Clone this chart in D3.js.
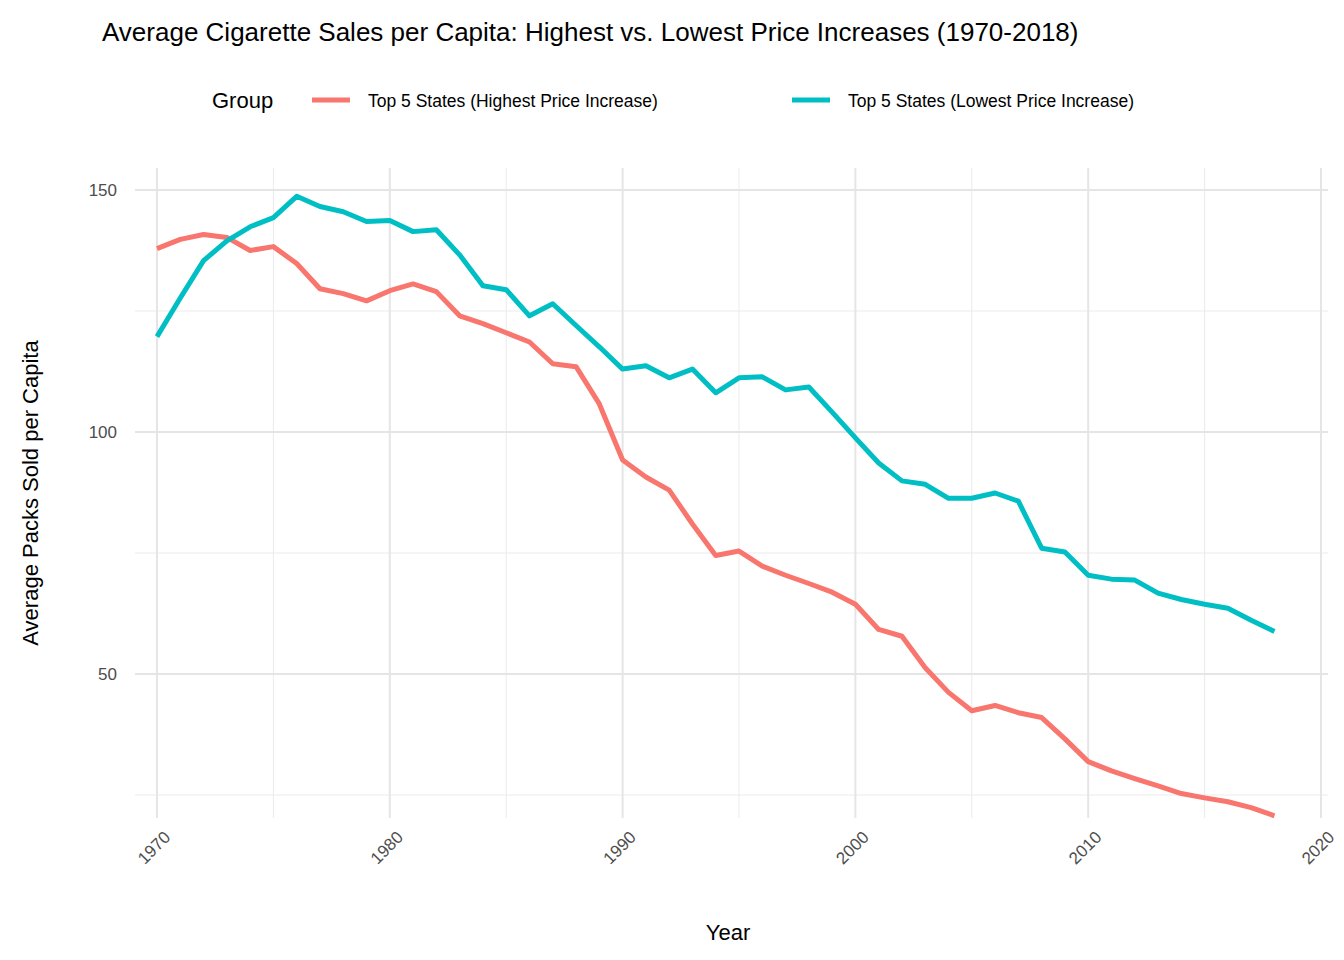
<!DOCTYPE html>
<html>
<head>
<meta charset="UTF-8">
<script src="https://d3js.org/d3.v7.min.js"></script>
<style>
  body { margin: 0; background: #fff; }
  text { font-family: "Liberation Sans", Arial, sans-serif; }
</style>
</head>
<body>
<svg width="1344" height="960"></svg>
<script>
const years = d3.range(1970, 2019);
const highIncrease = [137.9,139.8,140.8,140.2,137.5,138.3,134.8,129.6,128.6,127.1,129.2,130.6,129.0,124.0,122.4,120.5,118.6,114.1,113.5,105.8,
  94.2,90.7,88.0,81.0,74.5,75.4,72.3,70.4,68.7,66.9,64.4,59.2,57.8,51.3,46.2,42.4,43.5,42.0,41.0,36.6,
  31.9,30.0,28.4,26.9,25.3,24.4,23.6,22.4,20.7];
const lowIncrease = [119.7,127.7,135.4,139.5,142.4,144.3,148.7,146.6,145.5,143.5,143.7,141.4,141.8,136.6,130.2,129.4,124.0,126.5,122.0,117.6,
  113.0,113.7,111.2,113.0,108.1,111.2,111.4,108.7,109.3,104.1,98.8,93.6,89.9,89.2,86.3,86.3,87.4,85.7,76.0,75.2,
  70.4,69.6,69.4,66.7,65.4,64.4,63.6,61.1,58.8];
const groups = ["Top 5 States (Highest Price Increase)", "Top 5 States (Lowest Price Increase)"];
const colors = ["#F8766D", "#00BFC4"];
const xTicks = [1970, 1980, 1990, 2000, 2010, 2020];
const yTicks = [50, 100, 150];

const svg = d3.select("svg");
const pLeft = 135, pRight = 1328, pTop = 168, pBottom = 818;

const x = d3.scaleLinear().domain([1970, 2020]).range([157, 1321]);
const y = d3.scaleLinear().domain([100, 150]).range([432, 190]);

// grid
const minorX = d3.range(1975, 2020, 10), minorY = [25, 75, 125];
svg.selectAll(".mx").data(minorX).enter().append("line")
  .attr("x1", d => x(d)).attr("x2", d => x(d)).attr("y1", pTop).attr("y2", pBottom)
  .attr("stroke", "#ebebeb").attr("stroke-width", 1);
svg.selectAll(".my").data(minorY).enter().append("line")
  .attr("x1", pLeft).attr("x2", pRight).attr("y1", d => y(d)).attr("y2", d => y(d))
  .attr("stroke", "#ebebeb").attr("stroke-width", 1);
svg.selectAll(".gx").data(xTicks).enter().append("line")
  .attr("x1", d => x(d)).attr("x2", d => x(d)).attr("y1", pTop).attr("y2", pBottom)
  .attr("stroke", "#e5e5e5").attr("stroke-width", 2);
svg.selectAll(".gy").data(yTicks).enter().append("line")
  .attr("x1", pLeft).attr("x2", pRight).attr("y1", d => y(d)).attr("y2", d => y(d))
  .attr("stroke", "#e5e5e5").attr("stroke-width", 2);

// tick labels
svg.selectAll(".yl").data(yTicks).enter().append("text")
  .attr("x", 117).attr("y", d => y(d) + 6).attr("text-anchor", "end")
  .attr("font-size", 17).attr("fill", "#4d4d4d").text(d => d);
svg.selectAll(".xl").data(xTicks).enter().append("text")
  .attr("transform", d => `translate(${x(d) + 6},${pBottom + 12}) rotate(-45)`)
  .attr("text-anchor", "end").attr("dy", "0.7em")
  .attr("font-size", 17).attr("fill", "#4d4d4d").text(d => d);

// lines
const line = d3.line().x((d, i) => x(years[i])).y(d => y(d));
[highIncrease, lowIncrease].forEach((s, k) => {
  svg.append("path").datum(s).attr("d", line).attr("fill", "none")
    .attr("stroke", colors[k]).attr("stroke-width", 5).attr("stroke-linejoin", "round");
});

// titles
svg.append("text").attr("x", 102).attr("y", 41).attr("font-size", 26).attr("fill", "#000")
  .text("Average Cigarette Sales per Capita: Highest vs. Lowest Price Increases (1970-2018)");
svg.append("text").attr("x", 728).attr("y", 940).attr("text-anchor", "middle")
  .attr("font-size", 22).text("Year");
svg.append("text").attr("transform", "translate(38,493) rotate(-90)").attr("text-anchor", "middle")
  .attr("font-size", 22).text("Average Packs Sold per Capita");

// legend
svg.append("text").attr("x", 212).attr("y", 108).attr("font-size", 22).text("Group");
const lx = [312, 792];
groups.forEach((g, k) => {
  svg.append("line").attr("x1", lx[k]).attr("x2", lx[k] + 38).attr("y1", 100).attr("y2", 100)
    .attr("stroke", colors[k]).attr("stroke-width", 5);
  svg.append("text").attr("x", lx[k] + 56).attr("y", 107).attr("font-size", 17.5).text(g);
});
</script>
</body>
</html>
